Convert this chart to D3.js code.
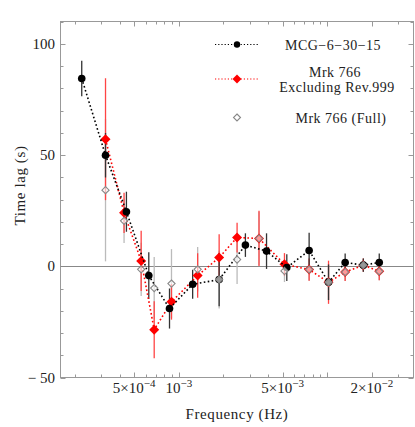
<!DOCTYPE html>
<html>
<head>
<meta charset="utf-8">
<script src="https://cdn.jsdelivr.net/npm/d3@7"></script>
<style>
  body { margin: 0; background: #fff; }
  text { font-family: "Liberation Serif", "DejaVu Serif", serif; fill: #222; }
</style>
</head>
<body>
<div id="graph"></div>
<script>
// MCG-6-30-15
const mcgFreq = [2.22e-4, 3.21e-4, 4.44e-4, 6.28e-4, 8.66e-4, 1.24e-3, 1.87e-3, 2.81e-3, 3.90e-3, 5.34e-3, 7.55e-3, 1.02e-2, 1.32e-2, 1.75e-2, 2.24e-2];
const mcgLag = [84.4, 49.9, 24.5, -4.2, -19, -8.1, -6, 9.5, 6.8, -0.6, 7.1, -7.2, 1.7, 0.5, 1.7];
const mcgErr = [8, 10, 9, 10.5, 9, 6.5, 12, 5.3, 8, 6, 8, 8, 4, 3, 4];

// Mrk 766
const mrkFreq = [3.21e-4, 4.28e-4, 5.58e-4, 6.83e-4, 8.93e-4, 1.34e-3, 1.87e-3, 2.47e-3, 3.47e-3, 5.15e-3, 7.55e-3, 1.02e-2, 1.32e-2, 1.75e-2, 2.24e-2];
const exclLag = [57.1, 24, 2.4, -28.5, -16, -4.2, 3.9, 12.9, 12.5, 0.9, -1.5, -7.2, -2.6, 0.5, -2.3];
const exclErr = [27.4, 9, 13.5, 12.8, 8, 10, 10.5, 6.7, 12.4, 5, 5, 9.7, 4, 3, 4];
const fullLag = [34.2, 20.4, -1.4, -9.8, -7.8, -1.4, -6, 3, 12.5, -2.1, -1.5, -7.2, -2.6, 0.5, -2.3];
const fullErr = [32, 10, 12, 14, 15.5, 10, 13, 11, 12, 5, 5, 8, 4, 3, 4];

const yTicks = [-50, 0, 50, 100];
const xTicks = [5e-4, 1e-3, 5e-3, 2e-2];
const xTickLabels = [["5\u00d710", "\u22124"], ["10", "\u22123"], ["5\u00d710", "\u22123"], ["2\u00d710", "\u22122"]];

let width = 415, height = 427;
let plotLeft = 60.5, plotRight = 413.5, plotTop = 21.5, plotBottom = 377.5;

let svg = d3.select("#graph")
    .append("svg")
    .attr("width", width)
    .attr("height", height);

let x = d3.scaleLog()
    .domain([1.597e-4, 3.81e-2])
    .range([plotLeft, plotRight]);

let y = d3.scaleLinear()
    .domain([-50, 110])
    .range([plotBottom, plotTop]);

// frame
svg.append("rect")
    .attr("x", plotLeft).attr("y", plotTop)
    .attr("width", plotRight - plotLeft).attr("height", plotBottom - plotTop)
    .attr("fill", "none")
    .attr("stroke", "#999")
    .attr("stroke-width", 1);

// ticks (inward, all four sides)
let minorX = [];
for (let e = -4; e <= -2; e++) {
  for (let m = 1; m <= 9; m++) {
    let v = m * Math.pow(10, e);
    if (v > 1.6e-4 && v < 3.8e-2) minorX.push(v);
  }
}
let majorX = [5e-4, 1e-3, 5e-3, 1e-2, 2e-2];
let tickG = svg.append("g").attr("stroke", "#999").attr("stroke-width", 1);
minorX.forEach(function(v) {
  let len = majorX.some(function(m) { return Math.abs(m - v) / v < 1e-6; }) ? 5 : 3;
  let px = Math.round(x(v)) + 0.5;
  tickG.append("line").attr("x1", px).attr("x2", px).attr("y1", plotBottom).attr("y2", plotBottom - len);
  tickG.append("line").attr("x1", px).attr("x2", px).attr("y1", plotTop).attr("y2", plotTop + len);
});
for (let v = -50; v <= 110; v += 10) {
  let len = v % 50 === 0 ? 5 : 3;
  let py = Math.round(y(v)) + 0.5;
  tickG.append("line").attr("x1", plotLeft).attr("x2", plotLeft + len).attr("y1", py).attr("y2", py);
  tickG.append("line").attr("x1", plotRight).attr("x2", plotRight - len).attr("y1", py).attr("y2", py);
}

// zero line
svg.append("line")
    .attr("x1", plotLeft).attr("x2", plotRight)
    .attr("y1", Math.round(y(0)) + 0.5).attr("y2", Math.round(y(0)) + 0.5)
    .attr("stroke", "#888")
    .attr("stroke-width", 1);

// tick labels
svg.selectAll("ylab").data(yTicks)
    .enter()
    .append("text")
    .attr("x", 55)
    .attr("y", function(d) { return y(d) + 5; })
    .attr("text-anchor", "end")
    .style("font-size", "15px")
    .text(function(d) { return d < 0 ? "\u2212 " + Math.abs(d) : d; });

xTicks.forEach(function(v, i) {
  let t = svg.append("text")
      .attr("x", x(v))
      .attr("y", 393)
      .attr("text-anchor", "middle")
      .style("font-size", "15px");
  t.append("tspan").text(xTickLabels[i][0]);
  t.append("tspan").attr("dy", -6).style("font-size", "11px").text(xTickLabels[i][1]);
});

// axis titles
svg.append("text")
    .attr("x", (plotLeft + plotRight) / 2)
    .attr("y", 419)
    .attr("text-anchor", "middle")
    .style("font-size", "15px")
    .style("letter-spacing", "0.6px")
    .text("Frequency (Hz)");

svg.append("text")
    .attr("transform", `translate(25, ${(plotTop + plotBottom) / 2 - 14}) rotate(-90)`)
    .attr("text-anchor", "middle")
    .style("font-size", "15px")
    .style("letter-spacing", "0.6px")
    .text("Time lag (s)");

function diamond(cx, cy, r) {
  return `M${cx},${cy - r}L${cx + r},${cy}L${cx},${cy + r}L${cx - r},${cy}Z`;
}

function drawErr(freq, lag, err, color) {
  svg.append("g").selectAll("line").data(lag)
      .enter()
      .append("line")
      .attr("x1", function(d, i) { return x(freq[i]); })
      .attr("x2", function(d, i) { return x(freq[i]); })
      .attr("y1", function(d, i) { return y(d - err[i]); })
      .attr("y2", function(d, i) { return y(d + err[i]); })
      .attr("stroke", color)
      .attr("stroke-width", 1.3);
}

function drawLine(freq, lag, color) {
  svg.append("path")
      .datum(lag)
      .attr("fill", "none")
      .attr("stroke", color)
      .attr("stroke-width", 1.6)
      .attr("stroke-dasharray", "1.6,2.4")
      .attr("d", d3.line()
        .x(function(d, i) { return x(freq[i]); })
        .y(function(d) { return y(d); }));
}

// error bars
drawErr(mrkFreq, fullLag, fullErr, "#bbb");
drawErr(mrkFreq, exclLag, exclErr, "#f44");
drawErr(mcgFreq, mcgLag, mcgErr, "#333");

// red series
drawLine(mrkFreq, exclLag, "#f00");
svg.append("g").selectAll("path").data(exclLag)
    .enter()
    .append("path")
    .attr("d", function(d, i) { return diamond(x(mrkFreq[i]), y(d), 5); })
    .attr("fill", "#f00");

// black series
drawLine(mcgFreq, mcgLag, "#000");
svg.append("g").selectAll("circle").data(mcgLag)
    .enter()
    .append("circle")
    .attr("cx", function(d, i) { return x(mcgFreq[i]); })
    .attr("cy", function(d) { return y(d); })
    .attr("r", 3.8)
    .attr("fill", "#000");

// gray open diamonds
svg.append("g").selectAll("path").data(fullLag)
    .enter()
    .append("path")
    .attr("d", function(d, i) { return diamond(x(mrkFreq[i]), y(d), 3.6); })
    .attr("fill", "#fff")
    .attr("fill-opacity", 0.6)
    .attr("stroke", "#888")
    .attr("stroke-width", 1.1);

// legend
let lg = svg.append("g");
lg.append("line").attr("x1", 215).attr("x2", 258).attr("y1", 44.5).attr("y2", 44.5)
    .attr("stroke", "#000").attr("stroke-width", 1.2).attr("stroke-dasharray", "1.2,2");
lg.append("circle").attr("cx", 237).attr("cy", 44.5).attr("r", 3.2).attr("fill", "#000");
lg.append("line").attr("x1", 215).attr("x2", 258).attr("y1", 79).attr("y2", 79)
    .attr("stroke", "#f00").attr("stroke-width", 1.2).attr("stroke-dasharray", "1.2,2");
lg.append("path").attr("d", diamond(237, 79, 4.5)).attr("fill", "#f00");
lg.append("path").attr("d", diamond(237, 117.5, 3.5))
    .attr("fill", "#fff").attr("stroke", "#888").attr("stroke-width", 1.1);

lg.append("text").attr("x", 333).attr("y", 49.5).attr("text-anchor", "middle")
    .style("font-size", "14px").style("letter-spacing", "0.5px").text("MCG\u22126\u221230\u221215");
lg.append("text").attr("x", 335).attr("y", 76.5).attr("text-anchor", "middle")
    .style("font-size", "14px").style("letter-spacing", "0.5px").text("Mrk 766");
lg.append("text").attr("x", 337).attr("y", 91.5).attr("text-anchor", "middle")
    .style("font-size", "14px").style("letter-spacing", "0.5px").text("Excluding Rev.999");
lg.append("text").attr("x", 341).attr("y", 122.5).attr("text-anchor", "middle")
    .style("font-size", "14px").style("letter-spacing", "0.5px").text("Mrk 766 (Full)");
</script>
</body>
</html>
